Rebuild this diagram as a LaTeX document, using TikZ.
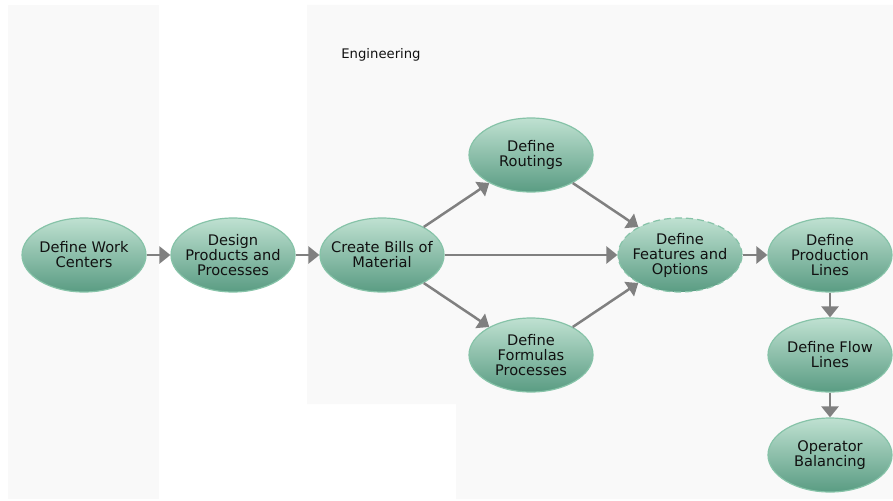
\documentclass[tikz,border=0pt]{standalone}
\usepackage{fontspec}
\setmainfont{DejaVu Sans}
\usetikzlibrary{arrows.meta,shapes.geometric}
\definecolor{lanebg}{HTML}{F9F9F9}
\definecolor{nodetop}{HTML}{BFE1D1}
\definecolor{nodemid}{HTML}{8DC6AD}
\definecolor{nodebot}{HTML}{5A9C83}
\definecolor{nodeborder}{HTML}{86C3A8}
\definecolor{arrowgray}{HTML}{808080}
\definecolor{txt}{HTML}{111111}
\tikzset{
  task/.style={ellipse, minimum width=124pt, minimum height=74pt, inner xsep=-14pt, inner ysep=-2pt,
    draw=nodeborder, line width=1.2pt, top color=nodetop, middle color=nodemid, bottom color=nodebot,
    align=center, text=txt, font=\fontsize{14.6}{15}\selectfont},
  dashtask/.style={task, dashed, dash pattern=on 7pt off 4pt},
  flow/.style={draw=arrowgray, line width=2.5pt, -{Triangle[length=11pt,width=17pt]}},
  lanelabel/.style={text=txt, font=\fontsize{13.2}{15}\selectfont}
}
\begin{document}
\begin{tikzpicture}[x=1pt,y=-1pt]
\useasboundingbox (0,0) rectangle (893,500);
\fill[white] (0,0) rectangle (893,500);
\fill[lanebg] (8,5) rectangle (159,499);
\fill[lanebg] (307,5) -- (893,5) -- (893,499) -- (456,499) -- (456,404) -- (307,404) -- cycle;
\node[lanelabel] (eng) at (381,55) {Engineering};

\node[task] (wc) at (84,255) {Define Work\\Centers};
\node[task] (dp) at (233,255) {Design\\Products and\\Processes};
\node[task] (bom) at (382,255) {Create Bills of\\Material};
\node[task] (rt) at (531,155) {Define\\Routings};
\node[task] (fp) at (531,355) {Define\\Formulas\\Processes};
\node[dashtask] (fo) at (680,255) {Define\\Features and\\Options};
\node[task] (pl) at (830,255) {Define\\Production\\Lines};
\node[task] (fl) at (830,355) {Define Flow\\Lines};
\node[task] (ob) at (830,455) {Operator\\Balancing};

\draw[flow] (wc) -- (dp);
\draw[flow] (dp) -- (bom);
\draw[flow] (bom) -- (rt);
\draw[flow] (bom) -- (fp);
\draw[flow] (bom) -- (fo);
\draw[flow] (rt) -- (fo);
\draw[flow] (fp) -- (fo);
\draw[flow] (fo) -- (pl);
\draw[flow] (pl) -- (fl);
\draw[flow] (fl) -- (ob);
\end{tikzpicture}
\end{document}
